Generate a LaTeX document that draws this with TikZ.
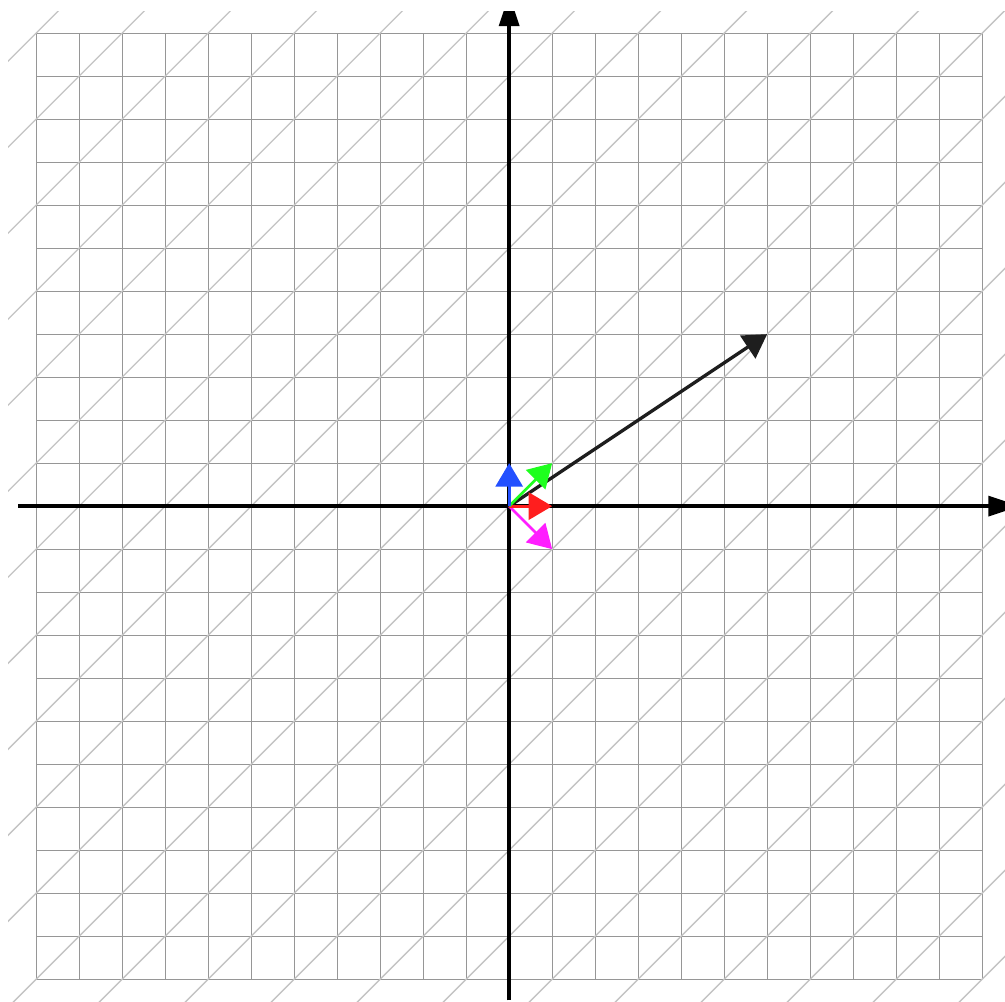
\documentclass[tikz,border=0pt]{standalone}
\usetikzlibrary{arrows.meta}
\definecolor{gridc}{RGB}{150,150,150}
\definecolor{diagc}{RGB}{195,195,195}
\definecolor{vblue}{RGB}{35,80,255}
\definecolor{vgreen}{RGB}{30,255,30}
\definecolor{vred}{RGB}{255,30,30}
\definecolor{vmag}{RGB}{255,30,255}
\definecolor{vblack}{RGB}{30,30,30}
\tikzset{
  gridline/.style={gridc, line width=0.6pt},
  diagline/.style={diagc, line width=0.9pt},
  axisline/.style={black, line width=2.3pt, -{Triangle[width=13.2pt,length=21pt]}},
  vecline/.style={line width=1.8pt, -{Triangle[width=17.9pt,length=15.5pt]}},
}
\begin{document}
\begin{tikzpicture}
\useasboundingbox (-11.84,-11.51) rectangle (11.53,11.77);
\clip (-11.65,-11.51) rectangle (11.53,11.5);
\draw[gridline] (-11,-11) grid (11,11);
\foreach \k in {-11,...,11}{
  \draw[diagline] (-12,{-12+2*\k}) -- (12,{12+2*\k});
}
\coordinate (O) at (0,0);
\coordinate (xl) at (-11.42,0);
\coordinate (xr) at (11.88,0);
\coordinate (yb) at (0,-11.49);
\coordinate (yt) at (0,11.9);
\draw[axisline] (xl) -- (xr);
\draw[axisline] (yb) -- (yt);
\coordinate (v) at (6,4);
\coordinate (e1) at (1,0);
\coordinate (e2) at (0,1);
\coordinate (d1) at (1,1);
\coordinate (d2) at (1,-1);
\draw[vecline, vblack, line width=2.2pt] (O) -- (v);
\draw[vecline, vmag] (O) -- (d2);
\draw[vecline, vred] (O) -- (e1);
\draw[vecline, vgreen] (O) -- (d1);
\draw[vecline, vblue] (O) -- (e2);
\end{tikzpicture}
\end{document}
